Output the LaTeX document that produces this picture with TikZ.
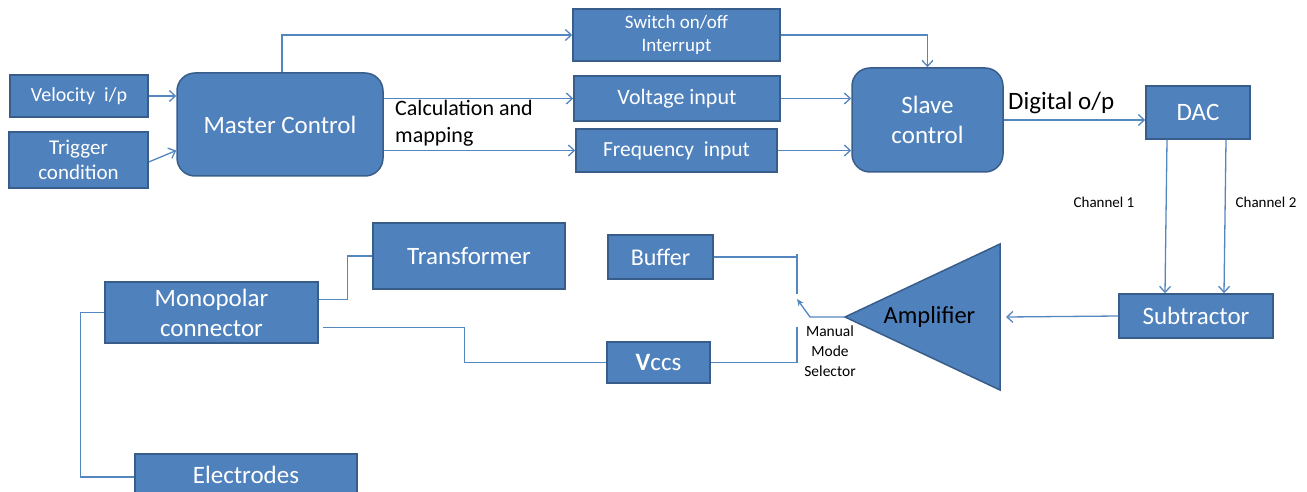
\documentclass[tikz,border=0pt]{standalone}
\usepackage{fontspec}
\setmainfont{Carlito}
\usetikzlibrary{arrows.meta,calc}

\definecolor{BleuFond}{RGB}{79,129,189}
\definecolor{BleuBord}{RGB}{56,93,138}
\definecolor{BleuFil}{RGB}{84,134,192}

\newcommand{\Bloc}[6][]{
\node[Bloc,minimum width=#4,minimum height=#5,#1] (#2) at (#3) {#6};
}
\tikzset{every node/.style={font=\fontsize{25}{30}\selectfont, text=white}}
\tikzset{Bloc/.style={draw=BleuBord,fill=BleuFond,line width=1.5pt,inner sep=0pt,align=center}}
\tikzset{Arrondi/.style={rounded corners=18pt}}
\tikzset{Fil/.style={draw=BleuFil,line width=1.3pt}}
\tikzset{Legende/.style={text=black,inner sep=0pt}}
\tikzset{>={Straight Barb[length=6pt,width=11pt]}}

\begin{document}
\begin{tikzpicture}[x=1pt,y=-1pt]%[every node/.style={font=\small}]
\useasboundingbox (0,0) rectangle (1307,492);

\Bloc[font=\fontsize{20}{24}\selectfont]{Vel}{79,96}{138pt}{42pt}{Velocity\ \ i/p}
\Bloc[font=\fontsize{21}{25}\selectfont]{Trig}{78.5,160}{139pt}{56pt}{Trigger\\condition}
\Bloc[Arrondi]{Master}{280,124.5}{206pt}{103pt}{Master Control}

\Bloc[font=\fontsize{19}{23}\selectfont]{Switch}{676.5,35}{207pt}{52pt}{Switch on/off\\Interrupt}
\Bloc[font=\fontsize{22}{26}\selectfont]{Volt}{677,98.5}{206pt}{45pt}{Voltage input}
\Bloc[font=\fontsize{21.5}{26}\selectfont]{Freq}{676.5,150.5}{201pt}{43pt}{Frequency\ \ input}

\Bloc[Arrondi]{Slave}{927.5,120}{151pt}{104pt}{Slave\\control}
\Bloc{DAC}{1198,112.5}{104pt}{53pt}{DAC}
\Bloc{Sub}{1196,316}{154pt}{44pt}{Subtractor}

\Bloc[font=\fontsize{24}{29}\selectfont]{Buffer}{660.5,257}{105pt}{44pt}{Buffer}
\Bloc{Vccs}{658.5,362.5}{103pt}{41pt}{\textbf{V}ccs}
\Bloc{Trans}{469,256}{192pt}{66pt}{Transformer}
\Bloc{Mono}{211.5,312.5}{213pt}{61pt}{Monopolar\\connector}
\Bloc[text depth=5pt]{Elec}{246,477}{222pt}{46pt}{Electrodes}

\coordinate (AmpHaut) at (1000,244);
\coordinate (AmpBas) at (1000,390);
\coordinate (AmpTip) at (845,317);
\coordinate (AmpIn) at (1006,317);
\filldraw[fill=BleuFond,draw=BleuBord,line width=1.5pt] (AmpHaut) -- (AmpBas) -- (AmpTip) -- cycle;
\node[Legende,font=\fontsize{24.5}{29}\selectfont] (Amp) at (929.5,317) {Amplifier};

\node[Legende,anchor=north west,align=left,font=\fontsize{22}{27}\selectfont] (Calc) at (395,100) {Calculation and\\mapping};
\node[Legende,anchor=base west] (Dig) at (1008,110) {Digital o/p};
\node[Legende,font=\fontsize{15}{18}\selectfont] (Ch1) at (1104,202) {Channel 1};
\node[Legende,font=\fontsize{15}{18}\selectfont] (Ch2) at (1266,202) {Channel 2};
\node[Legende,align=center,font=\fontsize{15.5}{20}\selectfont] (Sel) at (830,351) {Manual\\Mode\\Selector};

\draw[Fil,->] (Vel) -- (Vel -| Master.west);
\draw[Fil,->] ($(Trig.east)+(0,2)$) -- ($(Master.west)+(0,26)$);
\draw[Fil,->] ($(Master.north)+(2,0)$) |- (Switch.west);
\draw[Fil,->] (Master.east |- Volt.west) -- (Volt.west);
\draw[Fil,->] (Master.east |- Freq.west) -- (Freq.west);

\draw[Fil,->] (Switch.east) -| (Slave.north);
\draw[Fil,->] (Volt.east) -- (Volt.east -| Slave.west);
\draw[Fil,->] (Freq.east) -- (Freq.east -| Slave.west);
\draw[Fil,->] (Slave.east) -- (Slave.east -| DAC.west);

\draw[Fil,->] ($(DAC.south)+(-31,0)$) -- ($(Sub.north)+(-31,0)$);
\draw[Fil,->] ($(DAC.south)+(28,0)$) -- ($(Sub.north)+(28,0)$);
\draw[Fil,->] (Sub.west) -- (AmpIn);

\coordinate (PlotA) at (797,254);
\coordinate (PlotB) at (797,294);
\coordinate (PlotC) at (797,327);
\coordinate (Bras) at (810,317);
\coordinate (Contact) at (797,299);
\draw[Fil] (Buffer.east) -- (Buffer.east -| PlotA);
\draw[Fil] (PlotA) -- (PlotB);
\draw[Fil] (Vccs.east) -| (PlotC);
\draw[Fil,-{Stealth[length=7pt,width=6pt]}] (AmpTip) -- (Bras) -- (Contact);

\draw[Fil] ($(Mono.east)+(0,-13)$) -- ++(29,0) |- (Trans.west);
\draw[Fil] ($(Mono.east)+(4,15)$) -- ++(142,0) |- (Vccs.west);
\draw[Fil] (Mono.west) -- ++(-24,0) |- (Elec.west);

\end{tikzpicture}
\end{document}
